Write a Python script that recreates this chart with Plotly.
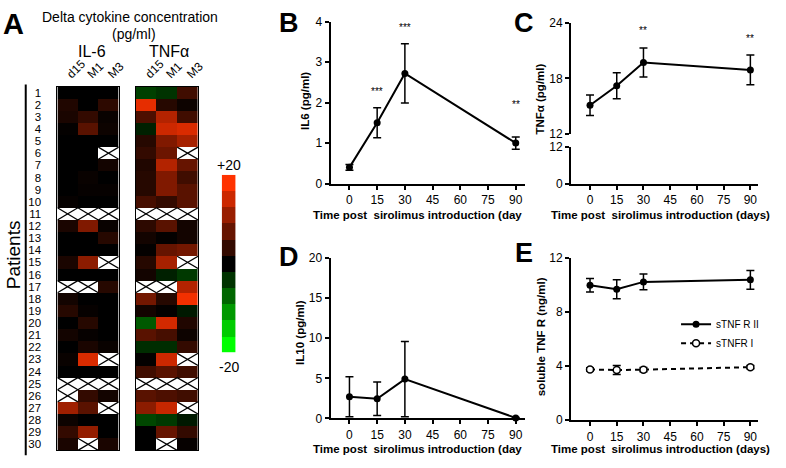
import plotly.graph_objects as go

W, H = 786, 468
FONT = "Liberation Sans, Arial, sans-serif"

# ---------------- data ----------------
patients = list(range(1, 31))
timepoints = ["d15", "M1", "M3"]
nan = None

il6_d15 = [0, 2.5, 2, 0.3, 0, 0, 0, 0, 0, 0.5, nan, 2, 0, 0, 2, 0, nan, 1.5, 3, 0, 1.5, 0, 0.7, 0, nan, nan, 12.5, 1, 4, 2]
il6_m1 = [0, 0, 4, 7, 0, 0, 0, 0.7, 0.5, 0, nan, 10, 0, 0, 11, 0, nan, 0, 0.5, 3, 0.5, 2, 17, 0, nan, 4, 7, 0, 11.5, nan]
il6_m3 = [0, 3.5, 0.7, 1, 0, nan, 1.5, 0, 0.5, 0, nan, 0.7, 3, 0, nan, 0, 3, 0, 0, 0, 0, 0.7, nan, 0, nan, 1.5, nan, 0, 0, 2]

tnf_d15 = [-5, 18, 6, -2.5, 3, 4, 2.5, 3, 3, 5.5, nan, 3.5, 1.5, 0.3, 3, 1.5, nan, 9, 1.5, -7, 7, -3.5, 0.3, 5, nan, 7, 11, -5.5, 0, 0]
tnf_m1 = [-4, 3, 14, 16, 10, 8.5, 14, 10, 10, 4, nan, 7, 0.3, 8, 13, -2.5, nan, 3, 0.3, 16.5, 5.5, -3.5, 16, 7, nan, 6, 15.5, -4.5, 8, nan]
tnf_m3 = [5, 1, 5, 17, 13, nan, 8, 5, 7, 7, nan, 1.5, 1.5, 9, nan, -4.5, 14, 19, -2, 2.5, 1, 4, nan, 5, nan, 5, nan, -2, 4, 0.5]

scale_steps = [20, 16, 12, 8, 4, 0, -4, -8, -12, -16, -20]

days = [0, 15, 30, 90]
il6_mean = [0.40, 1.50, 2.72, 1.00]
il6_sem = [0.07, 0.37, 0.73, 0.15]
il6_stars = ["", "***", "***", "**"]
il6_star_y = [None, 2.27, 3.86, 1.95]

tnf_mean = [15.1, 17.2, 19.7, 18.9]
tnf_sem = [1.1, 1.4, 1.55, 1.6]
tnf_stars = ["", "", "**", "**"]
tnf_star_y = [None, None, 23.1, 22.3]

il10_mean = [2.7, 2.45, 4.9, 0.05]
il10_sem = [2.5, 2.1, 4.7, 0.05]

stnfr2_mean = [10.0, 9.7, 10.25, 10.4]
stnfr2_sem = [0.5, 0.7, 0.58, 0.7]
stnfr1_mean = [3.76, 3.72, 3.75, 3.93]
stnfr1_sem = [0.12, 0.33, 0.15, 0.12]

xlabel = "Time post&nbsp; sirolimus introduction (days)"
xlabel_cut = "Time post&nbsp; sirolimus introduction (day"

# ---------------- helpers ----------------
def fx(px):
    return px / W

def fy(py):
    return 1 - py / H

def xd(a, b):
    return [fx(a), fx(b)]

def yd(top, bottom):
    return [fy(bottom), fy(top)]

colorscale = [[0, "rgb(0,255,0)"], [0.5, "rgb(0,0,0)"], [1, "rgb(255,50,0)"]]

def matrix(cols):
    return [[(v if v is not None else float("nan")) for v in row] for row in zip(*cols)]

def cross_lines(cols):
    xs, ys = [], []
    for c, col in enumerate(cols):
        for r, v in zip(patients, col):
            if v is None:
                xs += [c - 0.5, c + 0.5, None, c - 0.5, c + 0.5, None]
                ys += [r - 0.5, r + 0.5, None, r + 0.5, r - 0.5, None]
    return xs, ys

fig = go.Figure()

# ---------------- heatmaps ----------------
for idx, cols in [("", [il6_d15, il6_m1, il6_m3]), ("2", [tnf_d15, tnf_m1, tnf_m3])]:
    fig.add_trace(go.Heatmap(
        z=matrix(cols), x=[0, 1, 2], y=patients, colorscale=colorscale,
        zmin=-20, zmax=20, showscale=False, hoverinfo="skip",
        xaxis="x" + idx, yaxis="y" + idx))
    cx, cy = cross_lines(cols)
    fig.add_trace(go.Scatter(x=cx, y=cy, mode="lines", line=dict(color="black", width=1.3),
                             showlegend=False, hoverinfo="skip", xaxis="x" + idx, yaxis="y" + idx))

# colour scale blocks
fig.add_trace(go.Heatmap(
    z=[[v] for v in scale_steps], x=[0], y=list(range(len(scale_steps))),
    colorscale=colorscale, zmin=-20, zmax=20, showscale=False, hoverinfo="skip",
    xaxis="x3", yaxis="y3"))

# ---------------- line panels ----------------
def err(arr):
    return dict(type="data", array=arr, color="black", thickness=1.5, width=4)

common_line = dict(mode="lines+markers", line=dict(color="black", width=2),
                   marker=dict(color="black", size=7), cliponaxis=False, hoverinfo="skip")

fig.add_trace(go.Scatter(x=days, y=il6_mean, error_y=err(il6_sem), showlegend=False,
                         xaxis="x4", yaxis="y4", **common_line))
fig.add_trace(go.Scatter(x=days, y=tnf_mean, error_y=err(tnf_sem), showlegend=False,
                         xaxis="x5", yaxis="y5", **common_line))
# lower (0-12) part of the broken TNF axis: same series, invisible, only registers the subplot
fig.add_trace(go.Scatter(x=days, y=tnf_mean, mode="markers", marker=dict(opacity=0),
                         showlegend=False, hoverinfo="skip", xaxis="x6", yaxis="y6"))
fig.add_trace(go.Scatter(x=days, y=il10_mean, error_y=err(il10_sem), showlegend=False,
                         xaxis="x7", yaxis="y7", **common_line))
fig.add_trace(go.Scatter(x=days, y=stnfr2_mean, error_y=err(stnfr2_sem), name="sTNF R II",
                         showlegend=True, xaxis="x8", yaxis="y8", **common_line))
fig.add_trace(go.Scatter(x=days, y=stnfr1_mean, error_y=err(stnfr1_sem), name="sTNFR I",
                         showlegend=True, xaxis="x8", yaxis="y8", mode="lines+markers",
                         line=dict(color="black", width=2, dash="5px,4px"),
                         marker=dict(color="white", size=7, line=dict(color="black", width=1.5)),
                         cliponaxis=False, hoverinfo="skip"))

# ---------------- axes ----------------
tickfont = dict(family=FONT, size=12, color="black")
hm_y = dict(range=[30.5, 0.5], showgrid=False, zeroline=False, showline=True, mirror=True,
            linecolor="black", linewidth=1)
hm_x = dict(range=[-0.5, 2.5], showgrid=False, zeroline=False, showline=True, mirror=True,
            linecolor="black", linewidth=1, side="top", tickvals=[0, 1, 2], ticktext=timepoints,
            tickangle=-45, ticks="", tickfont=tickfont, ticklabelstandoff=0)

layout_axes = {}
layout_axes["xaxis"] = dict(hm_x, domain=xd(58, 120), anchor="y")
layout_axes["yaxis"] = dict(hm_y, domain=yd(82, 457), anchor="x", tickvals=patients,
                            ticktext=[str(p) for p in patients], ticks="",
                            tickfont=dict(family=FONT, size=11.5, color="black"),
                            ticklabelstandoff=13)
layout_axes["xaxis2"] = dict(hm_x, domain=xd(137, 200), anchor="y2")
layout_axes["yaxis2"] = dict(hm_y, domain=yd(82, 457), anchor="x2", showticklabels=False, ticks="")
layout_axes["xaxis3"] = dict(domain=xd(224, 238), anchor="y3", visible=False, range=[-0.5, 0.5])
layout_axes["yaxis3"] = dict(domain=yd(173, 356), anchor="x3", visible=False,
                             range=[len(scale_steps) - 0.5, -0.5])

lax = dict(showline=True, linecolor="black", linewidth=2, ticks="outside", ticklen=4,
           tickwidth=1.5, tickcolor="black", showgrid=False, zeroline=False, tickfont=tickfont)
xt = dict(tickvals=[0, 15, 30, 45, 60, 75, 90])

# B
layout_axes["xaxis4"] = dict(lax, **xt, domain=xd(334, 530), range=[-10.2, 94.8], anchor="y4")
layout_axes["yaxis4"] = dict(lax, domain=yd(15, 182), range=[0, 4], tickvals=[0, 1, 2, 3, 4], anchor="x4")
# C (broken axis)
layout_axes["xaxis5"] = dict(domain=xd(577, 766), range=[-10.6, 94.4], anchor="y5", visible=False)
layout_axes["yaxis5"] = dict(lax, domain=yd(16, 131), range=[12, 24], tickvals=[12, 18, 24], anchor="x5")
layout_axes["xaxis6"] = dict(lax, **xt, domain=xd(577, 766), range=[-10.6, 94.4], anchor="y6")
layout_axes["yaxis6"] = dict(lax, domain=yd(144, 182), range=[0, 12], tickvals=[0, 12], anchor="x6")
# D
layout_axes["xaxis7"] = dict(lax, **xt, domain=xd(334, 530), range=[-10.2, 94.8], anchor="y7")
layout_axes["yaxis7"] = dict(lax, domain=yd(259, 424), range=[0, 20], tickvals=[0, 5, 10, 15, 20], anchor="x7")
# E
layout_axes["xaxis8"] = dict(lax, **xt, domain=xd(577, 766), range=[-10.6, 94.4], anchor="y8")
layout_axes["yaxis8"] = dict(lax, domain=yd(259, 426), range=[0, 12], tickvals=[0, 4, 8, 12], anchor="x8")

# ---------------- annotations ----------------
ann = []

def text(px, py, s, size, bold=False, angle=0, xanchor="center", yanchor="middle"):
    ann.append(dict(x=fx(px), y=fy(py), xref="paper", yref="paper", text=("<b>%s</b>" % s) if bold else s,
                    showarrow=False, textangle=angle, xanchor=xanchor, yanchor=yanchor,
                    font=dict(family=FONT, size=size, color="black")))

text(14, 18, "A", 29, bold=True)
text(292, 17, "B", 27, bold=True)
text(529, 17, "C", 27, bold=True)
text(292, 258, "D", 27, bold=True)
text(529, 254, "E", 27, bold=True)

text(131, 10, "Delta cytokine concentration", 14)
text(135, 28, "(pg/ml)", 14)
text(93, 46, "IL-6", 16)
text(171, 46, "TNFα", 16)
text(14, 255, "Patients", 19, angle=-90)
text(231, 163, "+20", 14)
text(231, 371, "-20", 14)

text(308, 97, "IL6 (pg/ml)", 11.5, bold=True, angle=-90)
text(546, 95, "TNFα (pg/ml)", 11.5, bold=True, angle=-90)
text(303, 335, "IL10 (pg/ml)", 11.5, bold=True, angle=-90)
text(546, 340, "soluble TNF R (ng/ml)", 11.5, bold=True, angle=-90)

text(314, 214, xlabel_cut, 11.5, bold=True, xanchor="left")
text(667, 214, xlabel, 11.5, bold=True)
text(314, 456, xlabel_cut, 11.5, bold=True, xanchor="left")
text(667, 456, xlabel, 11.5, bold=True)

for d, s, yv in zip(days, il6_stars, il6_star_y):
    if s:
        ann.append(dict(x=d, y=yv, xref="x4", yref="y4", text=s, showarrow=False,
                        font=dict(family=FONT, size=10, color="black")))
for d, s, yv in zip(days, tnf_stars, tnf_star_y):
    if s:
        ann.append(dict(x=d, y=yv, xref="x5", yref="y5", text=s, showarrow=False,
                        font=dict(family=FONT, size=10, color="black")))

shapes = [dict(type="line", xref="paper", yref="paper", x0=fx(26), x1=fx(26), y0=fy(80), y1=fy(462),
               line=dict(color="black", width=2))]

fig.update_layout(
    width=W, height=H, margin=dict(l=0, r=0, t=0, b=0),
    paper_bgcolor="white", plot_bgcolor="rgba(0,0,0,0)",
    font=dict(family=FONT, color="black"),
    annotations=ann, shapes=shapes,
    legend=dict(x=fx(683), y=fy(312), xanchor="left", yanchor="top", bgcolor="rgba(0,0,0,0)",
                font=dict(family=FONT, size=10, color="black"), itemwidth=30, tracegroupgap=0),
    **layout_axes,
)

fig.write_html("out.html", config={"displayModeBar": False},
               post_script="document.body.style.margin='0px';document.body.style.overflow='hidden';")
